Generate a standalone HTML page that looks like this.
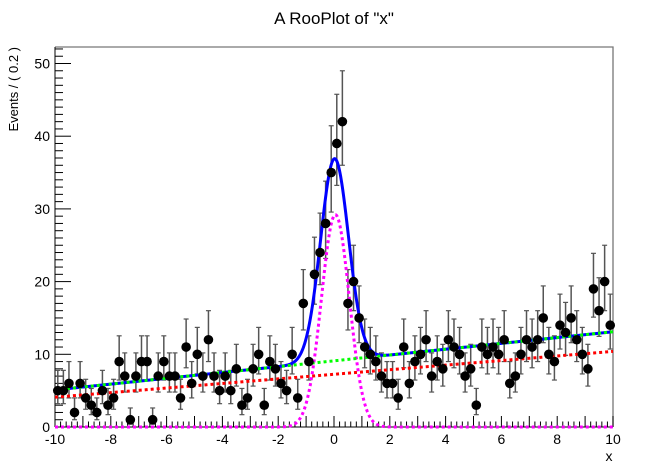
<!DOCTYPE html>
<html><head><meta charset="utf-8"><style>
html,body{margin:0;padding:0;background:#fff;}
svg{display:block;font-family:"Liberation Sans",Arial,sans-serif;}
</style></head><body>
<svg id="s" width="668" height="475" viewBox="0 0 668 475" xmlns="http://www.w3.org/2000/svg">
<rect width="668" height="475" fill="#fff"/>
<text x="334" y="24" font-size="17" text-anchor="middle">A RooPlot of "x"</text>
<text transform="translate(18,47) rotate(-90)" font-size="13" text-anchor="end">Events / ( 0.2 )</text>
<text x="609" y="461" font-size="14" text-anchor="middle">x</text>
<g id="g"></g>
</svg>
<script>
var L=55,R=613,T=47,B=427;
function X(v){return L+(v+10)*(R-L)/20;}
function Y(v){return B-v*7.27;}
var s='';
s+='<polyline points="'+L+','+T+' '+R+','+T+' '+R+','+B+'" fill="none" stroke="#777" stroke-width="1.3"/>';
s+='<line x1="'+L+'" x2="'+L+'" y1="'+T+'" y2="'+B+'" stroke="#000"/>';
s+='<line x1="'+L+'" x2="'+R+'" y1="'+B+'" y2="'+B+'" stroke="#000"/>';
for(var i=-50;i<=50;i++){var v=i/5;var x=X(v);var big=(i%5==0);
 s+='<line x1="'+x+'" x2="'+x+'" y1="'+B+'" y2="'+(B-(big?11:5.5))+'" stroke="#000"/>';
 if(i%10==0) s+='<text x="'+x+'" y="'+(B+17)+'" font-size="14" text-anchor="middle">'+v+'</text>';}
for(var j=0;j<=52;j++){var y=Y(j);var big=(j%10==0);if(y<T)break;
 s+='<line x1="'+L+'" x2="'+(L+(big?16:8))+'" y1="'+y+'" y2="'+y+'" stroke="#000"/>';
 if(big) s+='<text x="'+(L-5)+'" y="'+(y+5)+'" font-size="14" text-anchor="end">'+j+'</text>';}
var d=[5,5,6,2,6,4,3,2,5,3,4,9,7,1,7,9,9,1,7,9,7,7,4,11,6,10,7,12,7,5,7,5,8,3,4,8,10,3,9,8,6,5,10,4,17,9,
21,24,28,35,39,42,17,20,15,11,10,9,7,6,6,4,11,6,9,10,12,7,9,8,12,11,10,7,8,3,11,10,11,10,12,6,7,10,12,11,12,15,10,9,14,13,15,12,10,8,19,16,20,14];
var pts='';
for(var k=0;k<d.length;k++){var xv=-9.9+0.2*k,n=d[k];var x=X(xv);
 var r=Math.sqrt(n+0.25);var lo=n-(r-0.5),hi=n+(r+0.5);
 s+='<line x1="'+x+'" x2="'+x+'" y1="'+Y(lo)+'" y2="'+Math.max(T,Y(hi))+'" stroke="#555" stroke-width="1.5"/>';
 s+='<line x1="'+(x-2.5)+'" x2="'+(x+2.5)+'" y1="'+Y(lo)+'" y2="'+Y(lo)+'" stroke="#555" stroke-width="1.2"/>';
 if(Y(hi)>T) s+='<line x1="'+(x-2.5)+'" x2="'+(x+2.5)+'" y1="'+Y(hi)+'" y2="'+Y(hi)+'" stroke="#555" stroke-width="1.2"/>';
 pts+='<circle cx="'+x+'" cy="'+Y(n)+'" r="4.8" fill="#000"/>';}
function path(f){var p='';for(var v=-10;v<=10.0001;v+=0.02){p+=(p?'L':'M')+X(v).toFixed(2)+','+Y(f(v)).toFixed(2);}return p;}
var sg=0.5;
function g(v,m){return Math.exp(-(v-m)*(v-m)/(2*sg*sg));}
s+='<path d="'+path(function(v){return 29.2*g(v,0.05);})+'" fill="none" stroke="#f0f" stroke-width="3" stroke-dasharray="3,3"/>';
s+='<path d="'+path(function(v){return 7.25+0.315*v;})+'" fill="none" stroke="#f00" stroke-width="3" stroke-dasharray="3,3"/>';
s+='<path d="'+path(function(v){return 9.1+0.4*v+27.8*g(v,0.02);})+'" fill="none" stroke="#00f" stroke-width="3"/>';
s+='<path d="'+path(function(v){return 9.1+0.4*v;})+'" fill="none" stroke="#0f0" stroke-width="3" stroke-dasharray="3,3"/>';
s+=pts;
document.getElementById('g').innerHTML=s;
</script>
</body></html>
